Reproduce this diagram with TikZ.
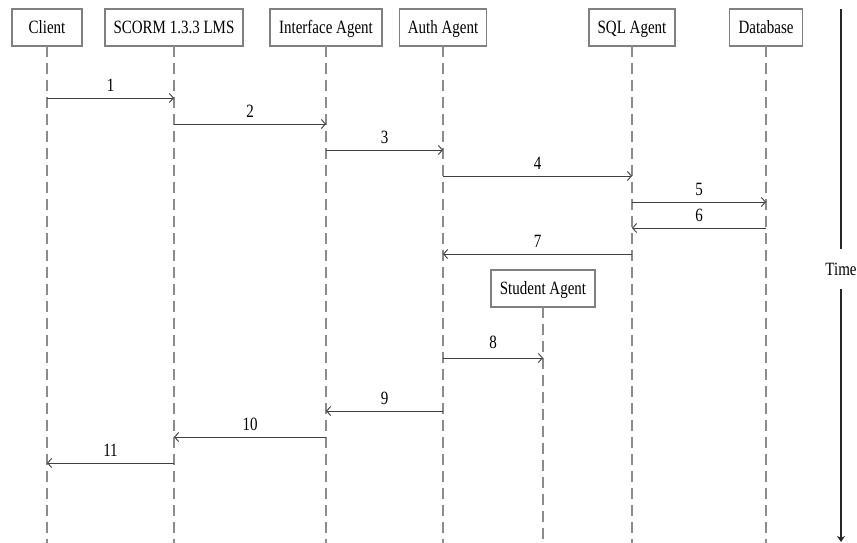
\documentclass[tikz,border=0pt]{standalone}
\usepackage{fontspec}
\setmainfont{Liberation Serif}
\usetikzlibrary{arrows.meta}
\newcommand{\stx}[1]{\scalebox{1}[1.25]{#1}}
\begin{document}
\begin{tikzpicture}[x=1pt,y=-1pt,
  actor/.style={draw=black!50, line width=1.3pt, fill=white, inner sep=0pt,
    minimum height=37pt, text height=12.5pt, text depth=0pt,
    font=\fontsize{15}{18}\selectfont, text=black},
  life/.style={draw=black!45, line width=1.4pt, dash pattern=on 11pt off 6pt},
  msg/.style={draw=black!75, line width=0.9pt, -{Straight Barb[length=4pt,width=9pt]}},
  num/.style={above, inner sep=0pt, yshift=6pt, font=\fontsize{15}{18}\selectfont, text=black},
  timeline/.style={draw=black!85, line width=1.8pt}]
\useasboundingbox (0,0) rectangle (857,543);
\coordinate (bot) at (0,543);
% actors
\node[actor, minimum width=70pt]  (client) at (47,27.5)  {\stx{Client}};
\node[actor, minimum width=138pt] (lms)    at (174,27.5) {\stx{SCORM 1.3.3 LMS}};
\node[actor, minimum width=112pt] (iface)  at (326,27.5) {\stx{Interface Agent}};
\node[actor, minimum width=87pt]  (auth)   at (443,27.5) {\stx{Auth Agent}};
\node[actor, minimum width=86pt]  (sql)    at (632,27.5) {\stx{SQL Agent}};
\node[actor, minimum width=73pt]  (db)     at (766,27.5) {\stx{Database}};
\node[actor, minimum width=104pt] (stud)   at (543,288.5) {\stx{Student Agent}};
% lifelines
\foreach \a in {client,lms,iface,auth,sql,db,stud}
  \draw[life] ([yshift=1pt]\a.south) -- (\a.south |- bot);
% message rows
\foreach \n/\y in {1/98,2/124,3/150,4/176,5/202,6/228,7/254,8/358,9/411,10/437,11/463}
  \coordinate (y\n) at (0,\y);
\draw[msg] (client |- y1) -- node[num]{\stx{1}} (lms |- y1);
\draw[msg] (lms |- y2) -- node[num]{\stx{2}} (iface |- y2);
\draw[msg] (iface |- y3) -- node[num]{\stx{3}} (auth |- y3);
\draw[msg] (auth |- y4) -- node[num]{\stx{4}} (sql |- y4);
\draw[msg] (sql |- y5) -- node[num]{\stx{5}} (db |- y5);
\draw[msg] (db |- y6) -- node[num]{\stx{6}} (sql |- y6);
\draw[msg] (sql |- y7) -- node[num]{\stx{7}} (auth |- y7);
\draw[msg] (auth |- y8) -- node[num, yshift=3pt]{\stx{8}} (stud |- y8);
\draw[msg] (auth |- y9) -- node[num]{\stx{9}} (iface |- y9);
\draw[msg] (iface |- y10) -- node[num]{\stx{10}} (lms |- y10);
\draw[msg] (lms |- y11) -- node[num]{\stx{11}} (client |- y11);
% time axis
\coordinate (ttop) at (841,9);
\coordinate (tbot) at (841,542);
\node[font=\fontsize{15}{18}\selectfont, text=black, inner sep=0pt, minimum height=40pt] (time) at (841,269) {\stx{Time}};
\draw[timeline] (ttop) -- (time.north);
\draw[timeline, -{Stealth[length=6pt,width=8pt]}] (time.south) -- (tbot);
\end{tikzpicture}
\end{document}
